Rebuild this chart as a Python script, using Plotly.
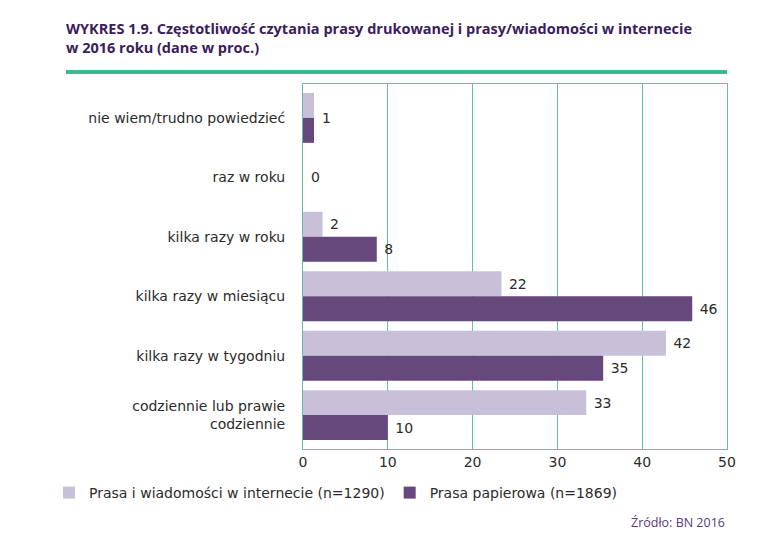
import plotly.graph_objects as go

# data
categories = [
    "nie wiem/trudno powiedzieć",
    "raz w roku",
    "kilka razy w roku",
    "kilka razy w miesiącu",
    "kilka razy w tygodniu",
    "codziennie lub prawie<br>codziennie",
]
online_values = [1.3, 0, 2.3, 23.4, 42.8, 33.4]
print_values = [1.3, 0, 8.7, 45.9, 35.4, 10.0]
online_labels = ["", "", "2", "22", "42", "33"]
print_labels = ["", "", "8", "46", "35", "10"]
# single label drawn between the pair of bars
shared_labels = {0: "1", 1: "0"}

online_name = "Prasa i wiadomości w internecie (n=1290)"
print_name = "Prasa papierowa (n=1869)"
x_ticks = [0, 10, 20, 30, 40, 50]

title_text = (
    "WYKRES 1.9. Częstotliwość czytania prasy drukowanej i prasy/wiadomości w internecie"
    "<br>w 2016 roku (dane w proc.)"
)
source_text = "Źródło: BN 2016"

LIGHT = "#c7c0d8"
DARK = "#67487c"
TEAL = "#5cc3a6"
GREEN = "#3cb891"
TITLE_PURPLE = "#3b1c5c"
TEXT = "#2b2b2b"
FONT = "DejaVu Sans"
TITLE_FONT = "Open Sans"

# page body has an 8px margin, so pixel targets are offset by 8
OFF = 8
PLOT_L, PLOT_R, PLOT_T, PLOT_B = 303, 727, 84, 449
W, H = 775, 548
plot_w = PLOT_R - PLOT_L
plot_h = PLOT_B - PLOT_T

fig = go.Figure()
fig.add_trace(
    go.Bar(
        y=categories,
        x=online_values,
        orientation="h",
        name=online_name,
        marker=dict(color=LIGHT, line=dict(width=0)),
        text=online_labels,
        texttemplate=" %{text}",
        textposition="outside",
        textfont=dict(size=14, color=TEXT, family=FONT),
        cliponaxis=False,
        hoverinfo="skip",
    )
)
fig.add_trace(
    go.Bar(
        y=categories,
        x=print_values,
        orientation="h",
        name=print_name,
        marker=dict(color=DARK, line=dict(width=0)),
        text=print_labels,
        texttemplate=" %{text}",
        textposition="outside",
        textfont=dict(size=14, color=TEXT, family=FONT),
        cliponaxis=False,
        hoverinfo="skip",
    )
)

for idx, label in shared_labels.items():
    fig.add_annotation(
        x=max(online_values[idx], print_values[idx]),
        y=categories[idx],
        xref="x",
        yref="y",
        text=label,
        showarrow=False,
        xanchor="left",
        xshift=6,
        font=dict(size=14, color=TEXT, family=FONT),
    )

fig.add_annotation(
    x=1,
    y=-(522 - PLOT_B) / plot_h,
    xref="paper",
    yref="paper",
    text=source_text,
    showarrow=False,
    xanchor="right",
    yanchor="middle",
    font=dict(size=12.5, color="#5a3a7c", family=TITLE_FONT),
)

fig.update_layout(
    title=dict(
        text=title_text,
        x=(66 - OFF) / W,
        xanchor="left",
        xref="container",
        y=1 - 26 / H,
        yref="container",
        yanchor="top",
        font=dict(size=14.5, color=TITLE_PURPLE, family=TITLE_FONT, weight="bold"),
    ),
    barmode="group",
    bargap=0.16,
    bargroupgap=0,
    width=W,
    height=H,
    margin=dict(
        l=PLOT_L - OFF,
        r=W + OFF - PLOT_R,
        t=PLOT_T - OFF,
        b=H + OFF - PLOT_B,
    ),
    plot_bgcolor="white",
    paper_bgcolor="white",
    font=dict(family=FONT, size=14, color=TEXT),
    showlegend=True,
    legend=dict(
        orientation="h",
        x=(49 - PLOT_L) / plot_w,
        xanchor="left",
        y=-(493 - PLOT_B) / plot_h,
        yanchor="middle",
        font=dict(size=14, color=TEXT, family=FONT),
        itemwidth=30,
        traceorder="normal",
    ),
    xaxis=dict(
        range=[0, 50],
        tickvals=x_ticks,
        showgrid=True,
        gridcolor=TEAL,
        gridwidth=1,
        showline=True,
        linecolor=TEAL,
        linewidth=1,
        mirror=True,
        zeroline=False,
        tickfont=dict(size=14, color=TEXT),
        ticks="",
        fixedrange=True,
    ),
    yaxis=dict(
        categoryorder="array",
        categoryarray=categories,
        range=[5.57, -0.57],
        showline=True,
        linecolor=TEAL,
        linewidth=1,
        mirror=True,
        showgrid=False,
        ticks="",
        ticklabelstandoff=14,
        tickfont=dict(size=14, color=TEXT),
        fixedrange=True,
    ),
    shapes=[
        dict(
            type="line",
            xref="paper",
            yref="paper",
            x0=(66 - PLOT_L) / plot_w,
            x1=1,
            y0=1 + (PLOT_T - 72) / plot_h,
            y1=1 + (PLOT_T - 72) / plot_h,
            line=dict(color=GREEN, width=4),
        )
    ],
)

fig.write_html("out.html")
